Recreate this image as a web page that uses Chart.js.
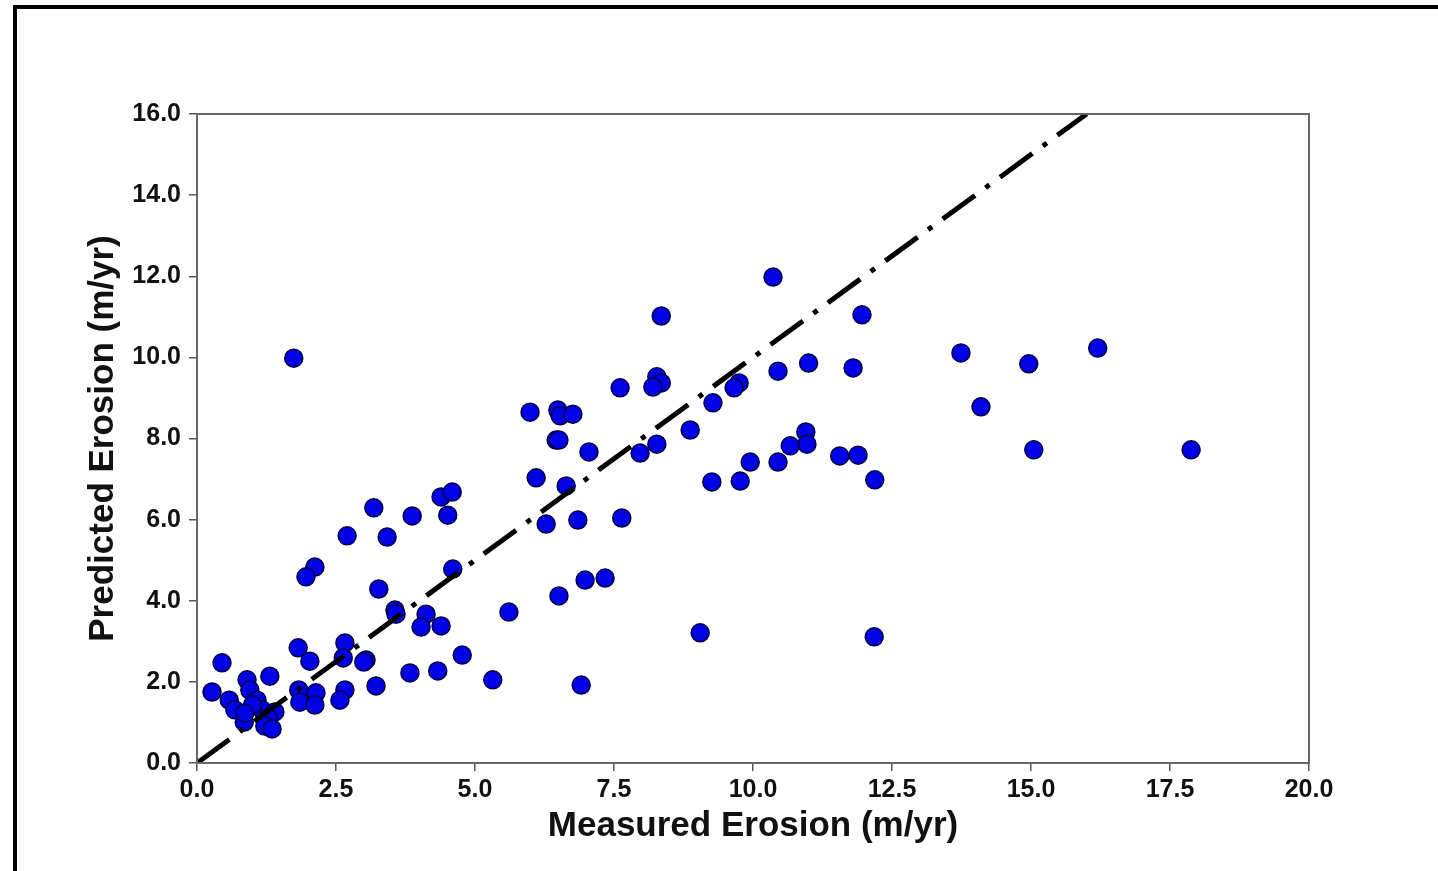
<!DOCTYPE html>
<html>
<head>
<meta charset="utf-8">
<script src="https://cdn.jsdelivr.net/npm/chart.js@4/dist/chart.umd.min.js"></script>
<style>
  html, body { margin: 0; padding: 0; background: #fff; overflow: hidden; }
  #wrap { position: relative; width: 1438px; height: 871px; }
  #frame {
    position: absolute; left: 13px; top: 5px; width: 2000px; height: 2000px;
    border-left: 4px solid #000; border-top: 4px solid #000; pointer-events: none;
  }
</style>
</head>
<body>
<div id="wrap">
  <canvas id="chart" width="1438" height="871"></canvas>
  <div id="frame"></div>
</div>
<script>
// Measured vs predicted erosion (m/yr)
const measured = [
  1.74, 10.36, 8.35, 11.96, 13.74, 16.2, 14.96, 11.0, 11.8, 10.45,
  8.27, 8.35, 8.2, 7.61, 9.75, 9.66, 9.28, 14.1, 5.99, 6.49,
  6.53, 6.76, 8.87, 10.95, 6.46, 6.51, 8.27, 10.97, 10.67, 7.05,
  7.97, 11.56, 11.89, 17.88, 15.05, 9.95, 10.45, 6.1, 9.26, 9.77,
  12.19, 6.64, 4.39, 4.59, 4.51, 3.18, 3.87, 7.64, 6.85, 6.28,
  2.7, 3.42, 2.12, 1.96, 4.6, 6.98, 7.34, 3.27, 6.51, 5.61,
  3.56, 3.58, 4.12, 4.03, 4.39, 9.05, 12.18, 2.66, 1.82, 2.63,
  2.03, 3.04, 3.0, 0.45, 4.77, 1.31, 3.83, 4.33, 5.32, 0.9,
  6.91, 3.22, 2.66, 0.27, 0.95, 1.83, 2.14, 0.58, 1.85, 2.12,
  2.57, 1.08, 0.68, 1.17, 1.4, 1.28, 0.85, 1.22, 1.35, 1.0, 0.86
];
const predicted = [
  9.98, 11.98, 11.02, 11.05, 10.11, 10.23, 9.84, 9.86, 9.74, 9.66,
  9.52, 9.37, 9.27, 9.25, 9.37, 9.25, 8.88, 8.78, 8.65, 8.70,
  8.56, 8.6, 8.21, 8.16, 7.96, 7.96, 7.86, 7.86, 7.82, 7.67,
  7.64, 7.57, 7.59, 7.72, 7.72, 7.42, 7.42, 7.03, 6.93, 6.95,
  6.98, 6.83, 6.56, 6.68, 6.11, 6.29, 6.09, 6.04, 5.99, 5.89,
  5.6, 5.57, 4.83, 4.59, 4.78, 4.51, 4.56, 4.29, 4.12, 3.72,
  3.77, 3.67, 3.67, 3.35, 3.38, 3.21, 3.11, 2.96, 2.84, 2.59,
  2.51, 2.54, 2.49, 2.47, 2.66, 2.14, 2.22, 2.27, 2.05, 2.05,
  1.92, 1.9, 1.8, 1.75, 1.8, 1.8, 1.73, 1.55, 1.5, 1.43,
  1.55, 1.55, 1.31, 1.31, 1.26, 1.11, 1.01, 0.91, 0.84, 1.43, 1.23
];

// 1:1 line
const oneToOneX = [0, 16];
const oneToOneY = [0, 16];

const xTicks = [0, 2.5, 5, 7.5, 10, 12.5, 15, 17.5, 20];
const yTicks = [0, 2, 4, 6, 8, 10, 12, 14, 16];

const scatterPoints = measured.map((m, i) => ({ x: m, y: predicted[i] }));
const linePoints = oneToOneX.map((v, i) => ({ x: v, y: oneToOneY[i] }));

const tickFont = { family: 'Liberation Sans, Arial, sans-serif', size: 25, weight: 'bold' };
const titleFont = { family: 'Liberation Sans, Arial, sans-serif', size: 35, weight: 'bold' };

// petit plugin pour fermer le cadre (haut et droite)
const boxPlugin = {
  id: 'box',
  afterDraw(chart) {
    const { ctx, chartArea: a } = chart;
    ctx.save();
    ctx.strokeStyle = '#666';
    ctx.lineWidth = 2;
    ctx.strokeRect(a.left, a.top, a.right - a.left, a.bottom - a.top);
    ctx.restore();
  }
};

new Chart(document.getElementById('chart').getContext('2d'), {
  type: 'scatter',
  data: {
    datasets: [
      {
        type: 'line',
        data: linePoints,
        borderColor: '#000',
        borderWidth: 5,
        borderDash: [40, 13, 5, 13],
        borderCapStyle: 'butt',
        pointRadius: 0,
        fill: false,
        order: 0
      },
      {
        data: scatterPoints,
        backgroundColor: '#0000e6',
        borderColor: '#000040',
        borderWidth: 1.5,
        pointRadius: 9,
        pointHoverRadius: 9,
        order: 1
      }
    ]
  },
  plugins: [boxPlugin],
  options: {
    responsive: false,
    animation: false,
    layout: { padding: { left: 0, top: 114, right: 129, bottom: 0 } },
    plugins: { legend: { display: false }, tooltip: { enabled: false } },
    scales: {
      x: {
        type: 'linear',
        min: 0, max: 20,
        afterFit(scale) { scale.height = 108; },
        afterBuildTicks(scale) { scale.ticks = xTicks.map(v => ({ value: v })); },
        ticks: { font: tickFont, color: '#111', padding: 4, maxRotation: 0, callback: v => v.toFixed(1) },
        grid: { display: true, drawOnChartArea: false, drawTicks: true, tickLength: 8, color: '#555', lineWidth: 1.5 },
        border: { display: true, color: '#666', width: 2 },
        title: { display: true, text: 'Measured Erosion (m/yr)', font: titleFont, color: '#111', padding: { top: 0, bottom: 24 } }
      },
      y: {
        type: 'linear',
        min: 0, max: 16,
        afterFit(scale) { scale.width = 197; },
        afterBuildTicks(scale) { scale.ticks = yTicks.map(v => ({ value: v })); },
        ticks: { font: tickFont, color: '#111', padding: 8, callback: v => v.toFixed(1) },
        grid: { display: true, drawOnChartArea: false, drawTicks: true, tickLength: 8, color: '#555', lineWidth: 1.5 },
        border: { display: true, color: '#666', width: 2 },
        title: { display: true, text: 'Predicted Erosion (m/yr)', font: titleFont, color: '#111', padding: { top: 82, bottom: 0 } }
      }
    }
  }
});
</script>
</body>
</html>
